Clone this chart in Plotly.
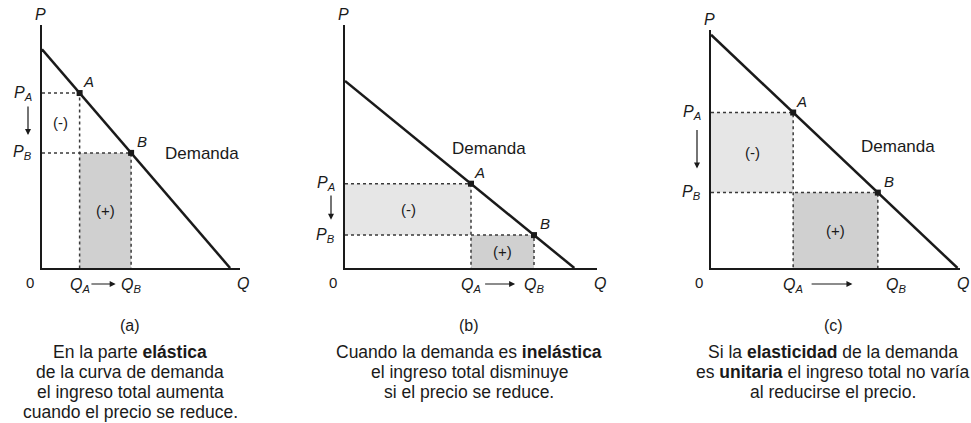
import plotly.graph_objects as go

# --- data (axis units 0..10 in every panel) ---
PANELS = ["(a)", "(b)", "(c)"]
P_INTERCEPT = [9.0, 7.7, 9.8]
Q_INTERCEPT = [9.5, 9.1, 9.9]
Q_A = [1.9, 5.0, 3.3]
Q_B = [4.5, 7.5, 6.7]
SHADE_MINUS = [False, True, True]
CAPTIONS = [
    ["En la parte <b>elástica</b>", "de la curva de demanda",
     "el ingreso total aumenta", "cuando el precio se reduce."],
    ["Cuando la demanda es <b>inelástica</b>", "el ingreso total disminuye",
     "si el precio se reduce."],
    ["Si la <b>elasticidad</b> de la demanda", "es <b>unitaria</b> el ingreso total no varía",
     "al reducirse el precio."],
]

# --- layout (pixels of a 971x423 page) ---
W, H = 971, 423
X_PIX = [(42, 240), (345, 597), (711, 960)]
Y_PIX = [(268, 25), (268, 25), (268, 30)]
DEMANDA_POS = [(8.1, 4.7), (5.7, 4.9), (7.5, 5.1)]
CAPTION_X = [130, 469, 833]
QB_SHIFT = [0, 0, 18]

FONT = "Liberation Sans, Arial, Helvetica, sans-serif"
INK = "#1a1a1a"
DOT = "#3a3a3a"
LIGHT = "#e6e6e6"
DARK = "#d0d0d0"

fig = go.Figure()
annotations = []

for i in range(3):
    xa = "x" if i == 0 else f"x{i + 1}"
    ya = "y" if i == 0 else f"y{i + 1}"
    p0, q0, qa, qb = P_INTERCEPT[i], Q_INTERCEPT[i], Q_A[i], Q_B[i]
    pa = p0 * (1 - qa / q0)
    pb = p0 * (1 - qb / q0)

    # shaded rectangles
    if SHADE_MINUS[i]:
        fig.add_trace(go.Scatter(x=[0, qa, qa, 0, 0], y=[pb, pb, pa, pa, pb],
                                 fill="toself", fillcolor=LIGHT, mode="none",
                                 xaxis=xa, yaxis=ya, hoverinfo="skip"))
    fig.add_trace(go.Scatter(x=[qa, qb, qb, qa, qa], y=[0, 0, pb, pb, 0],
                             fill="toself", fillcolor=DARK, mode="none",
                             xaxis=xa, yaxis=ya, hoverinfo="skip"))

    # dotted guides
    for q, p in ((qa, pa), (qb, pb)):
        fig.add_trace(go.Scatter(x=[0, q, q], y=[p, p, 0], mode="lines",
                                 line=dict(color=DOT, width=1.5, dash="dot"),
                                 xaxis=xa, yaxis=ya, hoverinfo="skip"))

    # demand curve
    fig.add_trace(go.Scatter(x=[0, q0], y=[p0, 0], mode="lines",
                             line=dict(color=INK, width=2.5),
                             xaxis=xa, yaxis=ya, hoverinfo="skip"))
    fig.add_trace(go.Scatter(x=[qa, qb], y=[pa, pb], mode="markers",
                             marker=dict(symbol="square", size=6, color=INK),
                             xaxis=xa, yaxis=ya, hoverinfo="skip"))

    it = dict(family=FONT, size=16, color=INK)
    small = dict(family=FONT, size=15, color=INK)
    # axis letters
    annotations += [
        dict(x=0, y=10, xref=xa, yref=ya, text="<i>P</i>", showarrow=False,
             yanchor="bottom", xshift=-2, yshift=0, font=it),
        dict(x=10, y=0, xref=xa, yref=ya, text="<i>Q</i>", showarrow=False,
             yshift=-15, xshift=3, font=it),
        dict(x=0, y=0, xref=xa, yref=ya, text="0", showarrow=False,
             xshift=-12, yshift=-14, font=small),
        dict(x=0, y=pa, xref=xa, yref=ya, text="<i>P</i><sub><i>A</i></sub>",
             showarrow=False, xanchor="right", xshift=-8, font=it),
        dict(x=0, y=pb, xref=xa, yref=ya, text="<i>P</i><sub><i>B</i></sub>",
             showarrow=False, xanchor="right", xshift=-8, font=it),
        dict(x=qa, y=0, xref=xa, yref=ya, text="<i>Q</i><sub><i>A</i></sub>",
             showarrow=False, yshift=-17, font=it),
        dict(x=qb, y=0, xref=xa, yref=ya, text="<i>Q</i><sub><i>B</i></sub>",
             showarrow=False, yshift=-17, xshift=QB_SHIFT[i], font=it),
        dict(x=qa, y=pa, xref=xa, yref=ya, text="<i>A</i>", showarrow=False,
             xanchor="left", yanchor="bottom", xshift=1, yshift=1, font=small),
        dict(x=qb, y=pb, xref=xa, yref=ya, text="<i>B</i>", showarrow=False,
             xanchor="left", yanchor="bottom", xshift=4, yshift=1, font=small),
        dict(x=DEMANDA_POS[i][0], y=DEMANDA_POS[i][1], xref=xa, yref=ya,
             text="Demanda", showarrow=False,
             font=dict(family=FONT, size=17, color=INK)),
        dict(x=qa / 2, y=(pa + pb) / 2, xref=xa, yref=ya, text="(-)",
             showarrow=False, font=small),
        dict(x=(qa + qb) / 2, y=pb / 2, xref=xa, yref=ya, text="(+)",
             showarrow=False, font=small),
        # price-drop arrow
        dict(x=0, y=pb + 0.3 * (pa - pb), xref=xa, yref=ya,
             ax=0, ay=pa - 0.2 * (pa - pb), axref=xa, ayref=ya,
             xshift=-14, text="", showarrow=True, arrowhead=2,
             arrowsize=1, arrowwidth=1.2, arrowcolor=INK),
        # quantity-rise arrow
        dict(x=qb - 0.3 * (qb - qa), y=0, xref=xa, yref=ya,
             ax=qa + 0.2 * (qb - qa), ay=0, axref=xa, ayref=ya,
             yshift=-16, text="", showarrow=True, arrowhead=2,
             arrowsize=1, arrowwidth=1.2, arrowcolor=INK),
    ]

    # captions
    cx = CAPTION_X[i] / W
    annotations.append(dict(x=cx, y=1 - 325 / H, xref="paper", yref="paper",
                            xanchor="center", yanchor="middle",
                            text=PANELS[i], showarrow=False,
                            font=dict(family=FONT, size=16, color=INK)))
    for k, line in enumerate(CAPTIONS[i]):
        annotations.append(dict(x=cx, y=1 - (352 + 20 * k) / H, xref="paper",
                                yref="paper", xanchor="center", yanchor="middle",
                                text=line, showarrow=False,
                                font=dict(family=FONT, size=17.5, color=INK)))

axis_common = dict(range=[0, 10], showgrid=False, zeroline=False,
                   showticklabels=False, ticks="", showline=True,
                   linecolor=INK, linewidth=1.5, fixedrange=True)
layout_axes = {}
for i in range(3):
    sx = "" if i == 0 else str(i + 1)
    x0, x1 = X_PIX[i]
    yb, yt = Y_PIX[i]
    layout_axes[f"xaxis{sx}"] = dict(axis_common, domain=[x0 / W, x1 / W],
                                     anchor=f"y{sx}")
    layout_axes[f"yaxis{sx}"] = dict(axis_common, domain=[1 - yb / H, 1 - yt / H],
                                     anchor=f"x{sx}")

fig.update_layout(
    width=W, height=H,
    margin=dict(l=0, r=0, t=0, b=0),
    paper_bgcolor="white", plot_bgcolor="rgba(0,0,0,0)",
    showlegend=False,
    font=dict(family=FONT, color=INK),
    annotations=annotations,
    **layout_axes,
)

fig.write_html("out.html", config={"displayModeBar": False},
               post_script="document.body.style.margin='0';")
